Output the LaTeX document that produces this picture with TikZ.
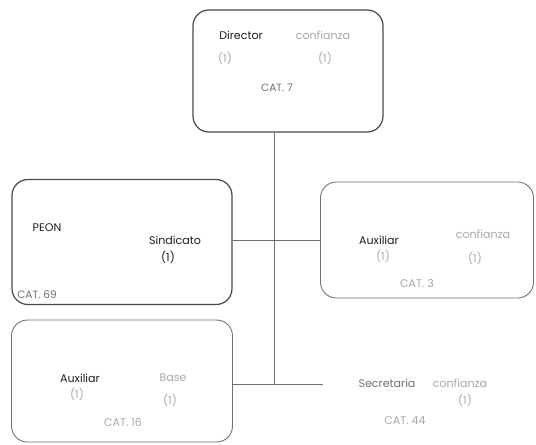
\documentclass[tikz,border=0pt]{standalone}
\usepackage{fontspec}
\setmainfont{Poppins}
\usetikzlibrary{positioning,calc}
\definecolor{ink}{HTML}{1E1E1E}
\definecolor{faint}{HTML}{A8A8A8}
\definecolor{mid}{HTML}{707070}
\definecolor{edge}{HTML}{4A4A4A}
\tikzset{
  % ---- boxes -----------------------------------------------------
  puesto/.style   = {rounded corners=9pt, draw=edge, line width=.7pt,
                     inner sep=0pt},
  pmuted/.style   = {puesto, draw=mid, line width=.5pt},
  % ---- texts -----------------------------------------------------
  cargo/.style    = {font=\fontsize{6.3}{7}\selectfont, text=ink, inner sep=0pt},
  tipo/.style     = {font=\fontsize{6.3}{7}\selectfont, text=faint, inner sep=0pt},
  num/.style      = {font=\fontsize{6.3}{7}\selectfont, text=faint, inner sep=0pt},
  cat/.style      = {font=\fontsize{6}{7}\selectfont, text=mid, inner sep=0pt},
  % ---- connectors ------------------------------------------------
  linea/.style    = {draw=mid, line width=.5pt},
}
\begin{document}
\begin{tikzpicture}[x=0.02cm, y=-0.02cm]
\useasboundingbox (0,0) rectangle (536,444);
% ---- boxes
\node[puesto, minimum width=3.8cm, minimum height=2.44cm] (director) at (288,71) {};
\node[puesto, minimum width=4.4cm, minimum height=2.5cm] (peon) at (122,242) {};
\node[pmuted, minimum width=4.26cm, minimum height=2.32cm] (auxconf) at (427,240) {};
\node[pmuted, minimum width=4.42cm, minimum height=2.44cm] (auxbase) at (122,381) {};
\node[draw=none, minimum width=4.2cm, minimum height=2.3cm] (secret) at (428,384) {};
% ---- connectors
\coordinate (cruce) at (274,240);
\coordinate (pie) at (274,384);
\draw[linea] (director.south -| cruce) -- (pie);
\draw[linea] (peon.east |- cruce) -- (auxconf.west |- cruce);
\draw[linea] (auxbase.east |- pie) -- (secret.west |- pie);
% ---- Director
\node[cargo] (dirtxt) at (241,35) {Director};
\node[tipo] (dirtipo) at (323,35) {confianza};
\node[num] at (225,58) {(1)};
\node[num] at (325,58) {(1)};
\node[cat] at (277,88) {CAT. 7};
% ---- PEON
\node[cargo] (peontxt) at (47,228) {PEON};
\node[cargo] (sind) at (175,240) {Sindicato};
\node[cargo] at (168,257) {(1)};
\node[cat] at (37,295) {CAT. 69};
% ---- Auxiliar confianza
\node[cargo] (auxtxt) at (379,240) {Auxiliar};
\node[tipo] at (483,234) {confianza};
\node[num] at (383,256) {(1)};
\node[num] at (475,258) {(1)};
\node[tipo] at (417,283) {CAT. 3};
% ---- Auxiliar base
\node[cargo] (auxbtxt) at (80,378) {Auxiliar};
\node[tipo] at (173,378) {Base};
\node[num] at (77,394) {(1)};
\node[num] at (170,400) {(1)};
\node[tipo] at (123,422) {CAT. 16};
% ---- Secretaria
\node[cargo, text=mid] (sectxt) at (387,383) {Secretaria};
\node[tipo] at (460,383) {confianza};
\node[num] at (465,400) {(1)};
\node[tipo] at (405,421) {CAT. 44};
\end{tikzpicture}
\end{document}
